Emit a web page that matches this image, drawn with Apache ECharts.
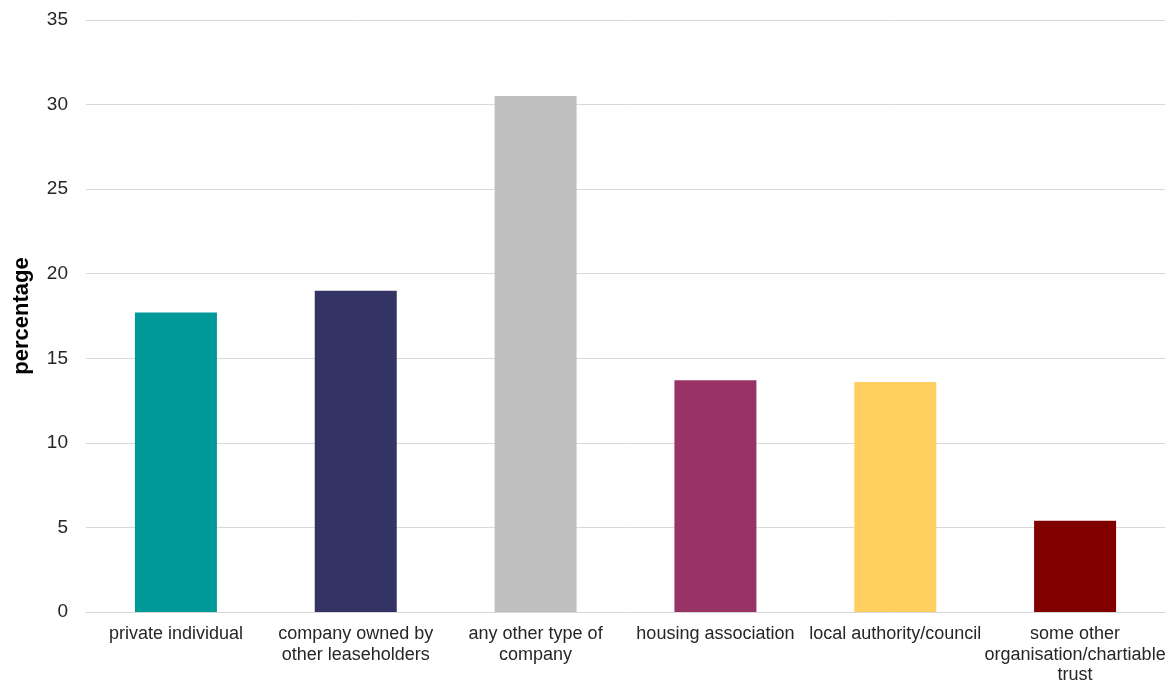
<!DOCTYPE html>
<html>
<head>
<meta charset="utf-8">
<script src="https://cdn.jsdelivr.net/npm/echarts@6/dist/echarts.min.js"></script>
<style>
  html, body { margin: 0; padding: 0; background: #ffffff; }
  #chart { width: 1172px; height: 687px; }
</style>
</head>
<body>
<div id="chart"></div>
<script>
// Freeholder / landlord types, share of leaseholders (%)
const categories = [
  'private individual',
  'company owned by\nother leaseholders',
  'any other type of\ncompany',
  'housing association',
  'local authority/council',
  'some other\norganisation/chartiable\ntrust'
];
const values = [17.7, 19.0, 30.5, 13.7, 13.6, 5.4];
const barColors = ['#009999', '#333366', '#bfbfbf', '#993366', '#ffd05f', '#800000'];
const yTicks = { min: 0, max: 35, interval: 5 };
const yTitle = 'percentage';

const FONT = 'Liberation Sans, Arial, sans-serif';

const chart = echarts.init(document.getElementById('chart'), null, { renderer: 'canvas' });
chart.setOption({
  animation: false,
  backgroundColor: '#ffffff',
  grid: { left: 86, right: 7, top: 20, bottom: 75, containLabel: false, outerBoundsMode: 'none' },
  xAxis: {
    type: 'category',
    data: categories,
    axisLine: { show: true, lineStyle: { color: '#d9d9d9', width: 1 } },
    axisTick: { show: false },
    axisLabel: {
      interval: 0,
      margin: 12,
      color: '#262626',
      fontFamily: FONT,
      fontSize: 18,
      lineHeight: 20.5,
      hideOverlap: false
    }
  },
  yAxis: {
    type: 'value',
    min: yTicks.min,
    max: yTicks.max,
    interval: yTicks.interval,
    name: yTitle,
    nameLocation: 'middle',
    nameGap: 53,
    nameRotate: 90,
    nameTextStyle: {
      color: '#000000',
      fontFamily: FONT,
      fontSize: 22,
      fontWeight: 'bold'
    },
    axisLine: { show: false },
    axisTick: { show: false },
    splitLine: { lineStyle: { color: '#d9d9d9', width: 1 } },
    axisLabel: {
      margin: 18,
      color: '#262626',
      fontFamily: FONT,
      fontSize: 19
    }
  },
  series: [{
    type: 'bar',
    data: values.map((v, i) => ({ value: v, itemStyle: { color: barColors[i] } })),
    barWidth: 82
  }]
});
</script>
</body>
</html>
